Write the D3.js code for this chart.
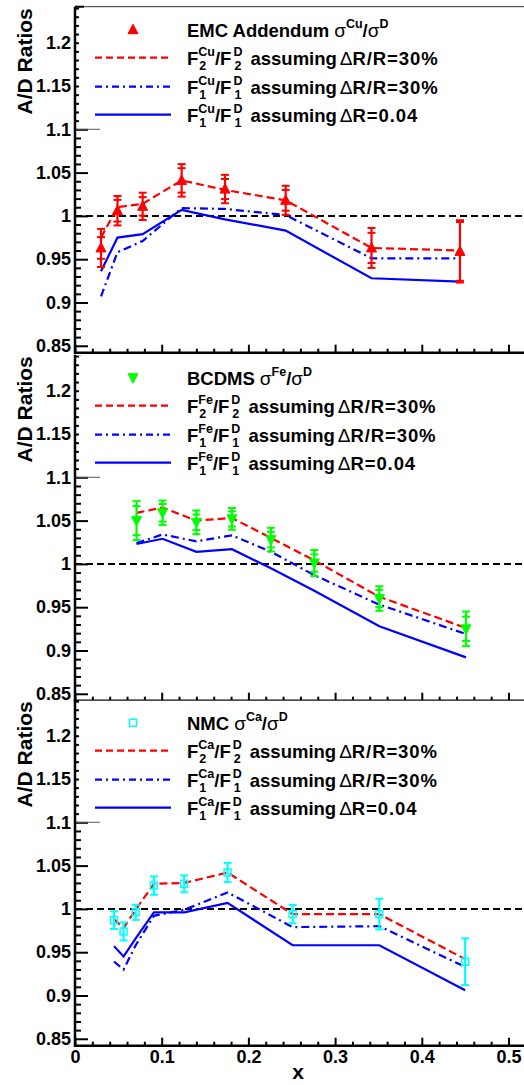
<!DOCTYPE html>
<html><head><meta charset="utf-8">
<script src="https://cdn.jsdelivr.net/npm/d3@7"></script>
<style>html,body{margin:0;padding:0;background:#fff;} svg{display:block;}</style>
</head><body><div id="chart"></div>
<script>
// ---------------- DATA ----------------
// Top panel: EMC Addendum Cu/D
const xCu    = [0.030, 0.049, 0.078, 0.123, 0.173, 0.243, 0.342, 0.444];
const cuVal  = [0.963, 1.006, 1.011, 1.041, 1.031, 1.018, 0.963, 0.959];
const cuStat = [0.0125, 0.0125, 0.0107, 0.0141, 0.0116, 0.012, 0.0174, 0.034];
const cuTot  = [0.022, 0.017, 0.0158, 0.0188, 0.0164, 0.0168, 0.0231, 0.036];
const cuF2   = [0.975, 1.010, 1.014, 1.041, 1.030, 1.018, 0.963, 0.960];
const cuF1r  = [0.907, 0.958, 0.971, 1.009, 1.008, 1.001, 0.951, 0.951];
const cuF1d  = [0.936, 0.975, 0.979, 1.007, 0.996, 0.983, 0.928, 0.924];

// Middle panel: BCDMS Fe/D
const xFe    = [0.071, 0.101, 0.140, 0.181, 0.226, 0.276, 0.351, 0.451];
const feVal  = [1.050, 1.059, 1.048, 1.052, 1.028, 1.001, 0.960, 0.925];
const feStat = [0.0168, 0.0102, 0.009, 0.0087, 0.009, 0.010, 0.010, 0.014];
const feTot  = [0.0225, 0.0142, 0.0137, 0.0126, 0.0137, 0.015, 0.0142, 0.020];
const feF2   = [1.059, 1.065, 1.050, 1.053, 1.030, 1.004, 0.962, 0.926];
const feF1r  = [1.024, 1.034, 1.026, 1.033, 1.014, 0.987, 0.953, 0.919];
const feF1d  = [1.023, 1.029, 1.014, 1.017, 0.995, 0.969, 0.928, 0.892];

// Bottom panel: NMC Ca/D
const xCa    = [0.045, 0.056, 0.070, 0.091, 0.126, 0.176, 0.251, 0.351, 0.450];
const caVal  = [0.987, 0.974, 0.996, 1.027, 1.029, 1.042, 0.994, 0.994, 0.939];
const caErr  = [0.0102, 0.0104, 0.0087, 0.0106, 0.0097, 0.011, 0.0106, 0.0177, 0.027];
const caF2   = [0.988, 0.978, 0.999, 1.029, 1.030, 1.042, 0.994, 0.994, 0.942];
const caF1r  = [0.939, 0.930, 0.958, 0.992, 0.999, 1.019, 0.979, 0.980, 0.933];
const caF1d  = [0.957, 0.945, 0.966, 0.996, 0.996, 1.007, 0.958, 0.958, 0.906];

const yMajor = [0.85, 0.9, 0.95, 1, 1.05, 1.1, 1.15, 1.2];
const yMajorLabels = ["0.85", "0.9", "0.95", "1", "1.05", "1.1", "1.15", "1.2"];
const xMajor = [0, 0.1, 0.2, 0.3, 0.4, 0.5];
const xMajorLabels = ["0", "0.1", "0.2", "0.3", "0.4", "0.5"];
const yDomain = [0.842, 1.2416];
const xDomain = [0, 0.518];

// ---------------- LAYOUT ----------------
const W = 524, H = 1085;
const left = 75;
const panelH = 346;
const bottoms = [352.7, 700.7, 1045.7];

const FONT = "'Liberation Sans', Arial, Helvetica, sans-serif";
const RED = "#ff0000", BLUE = "#0000ff";

const svg = d3.select("#chart").append("svg").attr("width", W).attr("height", H)
  .style("background", "#fff");

const x = d3.scaleLinear().domain(xDomain).range([left, left + (xDomain[1] - xDomain[0]) * 867]);

const panels = [
  {x: xCu, val: cuVal, stat: cuStat, tot: cuTot, f2: cuF2, f1r: cuF1r, f1d: cuF1d,
   color: RED, marker: "up", nuc: "Cu", exp: "EMC Addendum"},
  {x: xFe, val: feVal, stat: feStat, tot: feTot, f2: feF2, f1r: feF1r, f1d: feF1d,
   color: "#00ff00", marker: "down", nuc: "Fe", exp: "BCDMS"},
  {x: xCa, val: caVal, stat: null, tot: caErr, f2: caF2, f1r: caF1r, f1d: caF1d,
   color: "#00ffff", marker: "square", nuc: "Ca", exp: "NMC"}
];

function markerD(type, cx, cy) {
  if (type === "up") return `M${cx-5},${cy+4}L${cx+5},${cy+4}L${cx},${cy-5.5}Z`;
  if (type === "down") return `M${cx-5},${cy-4}L${cx+5},${cy-4}L${cx},${cy+5.5}Z`;
  return `M${cx-3.5},${cy-3.5}h7v7h-7Z`;
}
function drawMarker(g, type, cx, cy, color) {
  const p = g.append("path").attr("d", markerD(type, cx, cy));
  if (type === "square") p.attr("fill", "none").attr("stroke", color).attr("stroke-width", 1.5);
  else p.attr("fill", color).attr("stroke", color).attr("stroke-width", 1);
}

const LSIZE = 18.5;
const SSIZE = 12.5;
function rich(g, x0, y0, parts) {
  let cx = x0;
  const txt = (s, xx, yy, size, weight, ls) => g.append("text").attr("x", xx).attr("y", yy)
      .attr("font-family", FONT).attr("font-size", size).attr("font-weight", weight)
      .attr("letter-spacing", ls || 0).attr("fill", "#000").text(s);
  parts.forEach(p => {
    if (p.gap) { cx += p.gap; return; }
    if (p.supsub) {
      const a = txt(p.supsub[0], cx, y0 - 8.5, SSIZE, "bold");
      const b = txt(p.supsub[1], cx + 1, y0 + 5.5, SSIZE, "bold");
      cx += Math.max(a.node().getComputedTextLength(), b.node().getComputedTextLength() + 1);
    } else if (p.sup) {
      const a = txt(p.sup, cx, y0 - 8.5, SSIZE, "bold");
      cx += a.node().getComputedTextLength();
    } else {
      const a = txt(p.t, cx, y0, p.normal ? 19 : LSIZE, p.normal ? "normal" : "bold", p.ls);
      cx += a.node().getComputedTextLength();
    }
  });
}

const lineStyles = [
  {key: "f2", dash: "8,4", width: 2.2},
  {key: "f1r", dash: "8,4,2,4", width: 2.2},
  {key: "f1d", dash: null, width: 2.2}
];

panels.forEach((P, i) => {
  const bottom = bottoms[i], top = bottom - panelH;
  const y = d3.scaleLinear().domain(yDomain).range([bottom, top]);
  const g = svg.append("g");

  // reference line at 1
  g.append("line").attr("x1", left).attr("x2", W).attr("y1", y(1)).attr("y2", y(1))
    .attr("stroke", "#000").attr("stroke-width", 2).attr("stroke-dasharray", "7,4");

  // model curves
  lineStyles.forEach(ls => {
    const vals = P[ls.key];
    const line = d3.line().x((d, k) => x(P.x[k])).y(d => y(d));
    g.append("path").attr("d", line(vals)).attr("fill", "none")
      .attr("stroke", ls.key === "f2" ? RED : BLUE).attr("stroke-width", ls.width)
      .attr("stroke-dasharray", ls.dash);
  });

  // error bars & markers
  P.val.forEach((v, k) => {
    const cx = x(P.x[k]);
    g.append("line").attr("x1", cx).attr("x2", cx).attr("y1", y(v - P.tot[k])).attr("y2", y(v + P.tot[k]))
      .attr("stroke", P.color).attr("stroke-width", 2.2);
    const caps = [v - P.tot[k], v + P.tot[k]];
    if (P.stat) caps.push(v - P.stat[k], v + P.stat[k]);
    caps.forEach(c => g.append("line").attr("x1", cx - 4).attr("x2", cx + 4).attr("y1", y(c)).attr("y2", y(c))
      .attr("stroke", P.color).attr("stroke-width", 2));
    drawMarker(g, P.marker, cx, y(v), P.color);
  });

  // y axis
  const yMinor = d3.range(85, 125).map(d => d / 100).filter(d => Math.round(d * 100) % 5 !== 0);
  g.append("g").attr("transform", `translate(${left},0)`)
    .call(d3.axisLeft(y).tickValues(yMinor).tickSize(-6).tickFormat(""))
    .call(s => s.select(".domain").remove())
    .selectAll("line").attr("stroke", "#000").attr("stroke-width", 2);
  const ya = g.append("g").attr("transform", `translate(${left},0)`)
    .call(d3.axisLeft(y).tickValues(yMajor).tickSize(-13).tickPadding(4)
      .tickFormat((d, k) => yMajorLabels[k]));
  ya.select(".domain").remove();
  ya.selectAll("line").attr("stroke", "#000").attr("stroke-width", 2);
  ya.selectAll("text").attr("font-family", FONT).attr("font-size", 18).attr("font-weight", "bold").attr("fill", "#000");

  // legend box covers the ticks above 1.1
  g.append("rect").attr("x", left + 4).attr("y", top + 1).attr("width", W - left - 4)
    .attr("height", y(1.1) - top - 2).attr("fill", "#fff");
  g.append("line").attr("x1", left + 1).attr("x2", left + 25).attr("y1", y(1.1)).attr("y2", y(1.1))
    .attr("stroke", "#555").attr("stroke-width", 1);

  g.append("line").attr("x1", left).attr("x2", left).attr("y1", top).attr("y2", bottom + 1)
    .attr("stroke", "#000").attr("stroke-width", 2.5);

  // x axis
  const xMinor = d3.range(0, 26).map(d => d * 0.02).filter((d, k) => k % 5 !== 0);
  g.append("g").attr("transform", `translate(0,${bottom})`)
    .call(d3.axisBottom(x).tickValues(xMinor).tickSize(-4).tickFormat(""))
    .call(s => s.select(".domain").remove())
    .selectAll("line").attr("stroke", "#000").attr("stroke-width", 2);
  const xa = g.append("g").attr("transform", `translate(0,${bottom})`)
    .call(d3.axisBottom(x).tickValues(xMajor).tickSize(-8).tickPadding(5)
      .tickFormat((d, k) => i === 2 ? xMajorLabels[k] : ""));
  xa.select(".domain").remove();
  xa.selectAll("line").attr("stroke", "#000").attr("stroke-width", 2);
  xa.selectAll("text").attr("font-family", FONT).attr("font-size", 18).attr("font-weight", "bold").attr("fill", "#000");
  g.append("line").attr("x1", left - 1).attr("x2", W).attr("y1", bottom).attr("y2", bottom)
    .attr("stroke", "#000").attr("stroke-width", 2.5);

  if (i === 0) {
    g.append("line").attr("x1", left).attr("x2", W).attr("y1", top).attr("y2", top)
      .attr("stroke", "#333").attr("stroke-width", 1);
    g.append("line").attr("x1", left).attr("x2", left + 9).attr("y1", top).attr("y2", top)
      .attr("stroke", "#000").attr("stroke-width", 2);
  }

  // y title
  g.append("text").attr("transform", `translate(32,${top + 1.5}) rotate(-90)`)
    .attr("text-anchor", "end").attr("font-family", FONT).attr("font-size", 21)
    .attr("font-weight", "bold").attr("fill", "#000").text("A/D Ratios");

  // legend
  const rows = [23, 51, 80, 108].map(d => top + d);
  drawMarker(g, P.marker, 133, rows[0], P.color);
  const lx1 = 95, lx2 = 171;
  g.append("line").attr("x1", lx1).attr("x2", lx2).attr("y1", rows[1]).attr("y2", rows[1])
    .attr("stroke", RED).attr("stroke-width", 2.2).attr("stroke-dasharray", "7,4");
  g.append("line").attr("x1", lx1).attr("x2", lx2).attr("y1", rows[2]).attr("y2", rows[2])
    .attr("stroke", BLUE).attr("stroke-width", 2.2).attr("stroke-dasharray", "7,4,2,4");
  g.append("line").attr("x1", lx1).attr("x2", lx2).attr("y1", rows[3]).attr("y2", rows[3])
    .attr("stroke", BLUE).attr("stroke-width", 2.2);

  const tx = 187;
  rich(g, tx, rows[0] + 7, [{t: P.exp}, {gap: 5}, {t: "σ", normal: true}, {sup: P.nuc}, {t: "/"},
    {t: "σ", normal: true}, {sup: "D"}]);
  [["2", "R/R=30%"], ["1", "R/R=30%"], ["1", "R=0.04"]].forEach((r, j) => {
    rich(g, tx, rows[j + 1] + 7, [{t: "F"}, {supsub: [P.nuc, r[0]]}, {t: "/F"}, {gap: 2}, {supsub: ["D", r[0]]},
      {gap: 8}, {t: "assuming"}, {gap: 3}, {t: "Δ", normal: true}, {t: r[1], ls: 0.9}]);
  });
});

// x title
svg.append("text").attr("x", 298).attr("y", 1079).attr("text-anchor", "middle")
  .attr("font-family", FONT).attr("font-size", 21).attr("font-weight", "bold").attr("fill", "#000").text("x");
</script>
</body></html>
